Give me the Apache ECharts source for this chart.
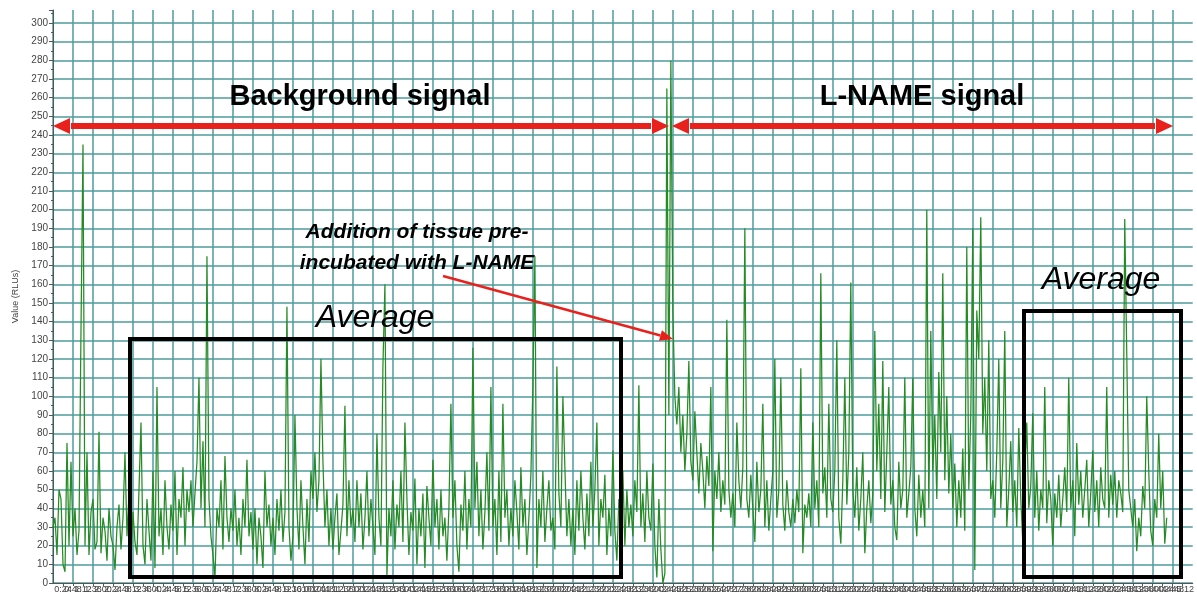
<!DOCTYPE html>
<html><head><meta charset="utf-8">
<script src="https://cdn.jsdelivr.net/npm/echarts@6/dist/echarts.min.js"></script>
<style>html,body{margin:0;padding:0;background:#fff}#c{width:1197px;height:594px}</style>
</head><body><div id="c"></div>
<script>
// seconds between samples (10 samples per 48 s grid cell)
const sampleSeconds = 4.8;
const xMaxSeconds = 2736;
const gridSeconds = 48;
const labelSeconds = 24;
const yMin = 0, yMax = 307, yStep = 10;

// luminescence values (RLUs) before the tissue addition
const backgroundSignal = [
  30, 35, 15, 50, 45, 10, 6, 75, 20, 65,
  25, 40, 15, 28, 136, 235, 20, 70, 15, 38,
  45, 18, 22, 81, 16, 35, 28, 12, 40, 25,
  20, 7, 30, 42, 18, 35, 70, 25, 48, 12,
  38, 22, 15, 50, 86, 20, 10, 45, 28, 12,
  60, 8, 105, 25, 40, 15, 55, 30, 18, 42,
  28, 60, 15, 45, 35, 62, 20, 50, 38, 55,
  30, 48, 65, 110, 40, 76, 30, 175, 45, 25,
  15, 3, 40, 30, 55, 18, 68, 35, 22, 40,
  28, 50, 20, 35, 15, 45, 30, 66, 25, 38,
  18, 40, 10, 35, 25, 8, 60, 30, 42, 20,
  35, 15, 45, 28, 50, 22, 38, 148, 30, 12,
  25, 90, 40, 18, 55, 30, 10, 45, 22, 60,
  45, 70, 38, 55, 120, 65, 30, 50, 20, 40,
  18, 35, 48, 15, 28, 42, 95, 25, 55, 30,
  40, 22, 55, 30, 48, 18, 35, 60, 25, 45,
  30, 15, 80, 35, 20, 116, 160, 4, 40, 25,
  55, 18, 42, 30, 60, 22, 86, 45, 15, 38,
  28, 56, 10, 40, 25, 48, 8, 52, 35, 20,
  66, 30, 45, 18, 50, 25, 35, 12, 40, 96,
  35, 55, 20, 6, 42, 28, 60, 18, 45, 30,
  126, 40, 65, 25, 50, 18, 38, 70, 28, 105,
  30, 45, 15, 60, 22, 96, 35, 50, 20, 40,
  25, 55, 38, 18, 62, 30, 45, 15, 35, 58,
  106, 175, 8, 45, 30, 60, 22, 40, 55, 28,
  35, 18, 116, 48, 30, 100, 62, 25, 45, 20,
  40, 15, 55, 28, 60, 35, 18, 48, 25, 65,
  30, 50, 86, 20, 45, 35, 58, 15, 40, 25,
  71, 28, 12, 45, 35, 60, 20, 50, 30, 42,
  25, 55, 38, 106, 30, 48, 22, 60, 35, 28,
  64, 20, 3, 45, 18, 0, 5
];

// luminescence values (RLUs) after addition of L-NAME tissue
const lnameSignal = [
  265, 90, 280,
  145, 100, 85, 105, 70, 90, 60, 80, 119, 65,
  55, 92, 70, 48, 75, 60, 40, 68, 52, 105,
  17, 60, 45, 70, 38, 55, 42, 141, 50, 35,
  48, 30, 86, 55, 40, 62, 190, 45, 35, 58,
  40, 22, 65, 38, 50, 96, 30, 55, 28, 45,
  60, 120, 35, 50, 110, 42, 28, 55, 38, 30,
  45, 32, 50, 38, 115, 16, 42, 35, 48, 30,
  86, 40, 55, 30, 166, 48, 62, 35, 96, 45,
  38, 60, 130, 35, 21, 55, 110, 42, 70, 161,
  50, 35, 62, 28, 45, 70, 16, 40, 55, 32,
  48, 135, 60, 96, 45, 119, 38, 70, 105, 42,
  55, 30, 23, 65, 40, 50, 110, 35, 48, 62,
  110, 40, 25, 58, 35, 50, 30, 200, 40, 135,
  60, 90, 45, 113, 70, 166, 55, 100, 48, 80,
  40, 64, 30, 55, 35, 72, 28, 180, 50, 90,
  190, 7, 146, 120, 196, 80, 110, 60, 130, 45,
  55, 35, 70, 120, 40, 65, 135, 30, 50, 76,
  38, 55, 30, 83, 45, 22, 60, 86, 40, 52,
  91, 35, 60, 28, 50, 40, 105, 32, 55, 45,
  20, 48, 35, 58, 30, 45, 62, 38, 110, 40,
  55, 25, 75, 42, 60, 35, 50, 66, 30, 48,
  71, 38, 55, 30, 62, 45, 40, 105, 35, 58,
  42, 60, 35, 55, 48, 38, 195, 123, 50, 40,
  30, 45, 17, 35, 25, 52, 40, 100, 60, 28,
  20, 45, 35, 80, 40, 60, 21, 35
];

const allValues = backgroundSignal.concat(lnameSignal);
const seriesData = allValues.map((v, i) => [i * sampleSeconds, v]);

function fmtTime(v) {
  if (v === 0) return '0';
  const m = Math.floor(v / 60), s = Math.round(v % 60);
  return m + ':' + String(s).padStart(2, '0');
}

const gridColor = '#4d9d9d';
const red = '#e8211c';
const chart = echarts.init(document.getElementById('c'), null, {renderer: 'canvas'});

function arrowHead(tipX, tipY, fromX, fromY, len, half) {
  const dx = tipX - fromX, dy = tipY - fromY, L = Math.hypot(dx, dy);
  const ux = dx / L, uy = dy / L, bx = tipX - ux * len, by = tipY - uy * len;
  return {base: [bx, by], pts: [[tipX, tipY], [bx - uy * half, by + ux * half], [bx + uy * half, by - ux * half]]};
}
function doubleArrow(x1, x2, y) {
  const h1 = arrowHead(x1, y, x2, y, 17, 8), h2 = arrowHead(x2, y, x1, y, 17, 8);
  return [
    {type: 'line', z: 100, shape: {x1: h1.base[0] + 1, y1: y, x2: h2.base[0] - 1, y2: y}, style: {stroke: red, lineWidth: 6}},
    {type: 'polygon', z: 100, shape: {points: h1.pts}, style: {fill: red}},
    {type: 'polygon', z: 100, shape: {points: h2.pts}, style: {fill: red}}
  ];
}
const thin = arrowHead(673, 339, 443, 276, 13, 5.5);

function txt(text, x, y, font) {
  return {type: 'text', z: 100, style: {text: text, x: x, y: y, font: font, fill: '#000',
    align: 'center', verticalAlign: 'middle', textAlign: 'center', textVerticalAlign: 'middle'}};
}

chart.setOption({
  animation: false,
  backgroundColor: '#fff',
  grid: {left: 53, right: 1, top: 10, bottom: 11},
  xAxis: [
    {type: 'value', min: 0, max: xMaxSeconds, interval: gridSeconds,
     axisLine: {show: false}, axisTick: {show: false}, axisLabel: {show: false},
     splitLine: {show: true, showMaxLine: false, lineStyle: {color: gridColor, width: 1.5}}},
    {type: 'value', min: 0, max: xMaxSeconds, interval: labelSeconds, position: 'bottom',
     axisLine: {show: true, onZero: false, lineStyle: {color: '#555', width: 1}},
     axisTick: {show: true, length: 3, lineStyle: {color: '#555'}},
     splitLine: {show: false},
     axisLabel: {show: true, showMaxLabel: false, fontSize: 9, color: '#444', margin: 2,
       fontFamily: 'Liberation Sans', formatter: fmtTime}}
  ],
  yAxis: {
    type: 'value', min: yMin, max: yMax, interval: yStep,
    name: 'Value (RLUs)', nameLocation: 'middle', nameGap: 32,
    nameTextStyle: {fontSize: 9, color: '#444', fontFamily: 'Liberation Sans'},
    axisLine: {show: true, lineStyle: {color: '#555', width: 1}},
    axisTick: {show: true, length: 4, lineStyle: {color: '#555'}},
    minorTick: {show: true, splitNumber: 2, length: 2, lineStyle: {color: '#555'}},
    axisLabel: {showMaxLabel: false, fontSize: 10, color: '#444', margin: 5, fontFamily: 'Liberation Sans'},
    splitLine: {show: true, showMaxLine: false, lineStyle: {color: gridColor, width: 1.5}}
  },
  series: [{
    type: 'line', xAxisIndex: 0, data: seriesData, showSymbol: false, symbol: 'none',
    lineStyle: {color: '#268a26', width: 1.25}, z: 5
  }],
  graphic: [
    txt('Background signal', 360, 97, 'bold 29px "Liberation Sans"'),
    txt('L-NAME signal', 922, 97, 'bold 29px "Liberation Sans"'),
    ...doubleArrow(53, 669, 126),
    ...doubleArrow(672, 1173, 126),
    txt('Addition of tissue pre-', 417, 232, 'italic bold 21px "Liberation Sans"'),
    txt('incubated with L-NAME', 417, 263, 'italic bold 21px "Liberation Sans"'),
    {type: 'line', z: 100, shape: {x1: 443, y1: 276, x2: thin.base[0], y2: thin.base[1]}, style: {stroke: red, lineWidth: 2.5}},
    {type: 'polygon', z: 100, shape: {points: thin.pts}, style: {fill: red}},
    txt('Average', 375, 318, 'italic 32px "Liberation Sans"'),
    txt('Average', 1101, 280, 'italic 32px "Liberation Sans"'),
    {type: 'rect', z: 100, shape: {x: 130, y: 339, width: 491, height: 238}, style: {fill: 'none', stroke: '#000', lineWidth: 4}},
    {type: 'rect', z: 100, shape: {x: 1024, y: 311, width: 157, height: 266}, style: {fill: 'none', stroke: '#000', lineWidth: 4}}
  ]
});
</script></body></html>
